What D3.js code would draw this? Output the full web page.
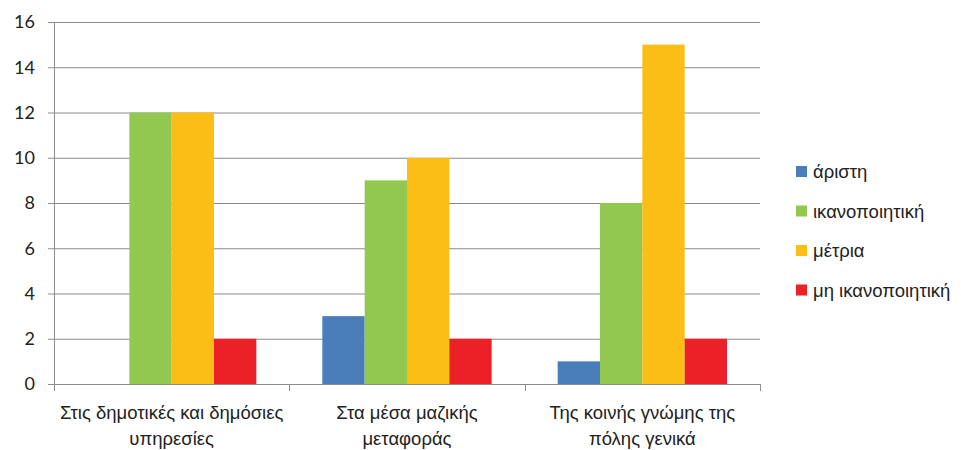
<!DOCTYPE html>
<html><head><meta charset="utf-8">
<script src="https://cdn.jsdelivr.net/npm/d3@7"></script>
<style>body{margin:0;background:#fff;} svg{display:block;}</style>
</head><body>
<svg id="c" width="961" height="450"></svg>
<script>
const categories = [["Στις δημοτικές και δημόσιες","υπηρεσίες"],["Στα μέσα μαζικής","μεταφοράς"],["Της κοινής γνώμης της","πόλης γενικά"]];
const seriesNames = ["άριστη","ικανοποιητική","μέτρια","μη ικανοποιητική"];
const aristi = [0,3,1];
const ikanopoiitiki = [12,9,8];
const metria = [12,10,15];
const miIkanopoiitiki = [2,2,2];
const yTicks = [0,2,4,6,8,10,12,14,16];
const colors = ["#4A7EBB","#92C850","#FBBE16","#EC2027"];
const seriesValues = [aristi, ikanopoiitiki, metria, miIkanopoiitiki];

(function(){
const svg = d3.select("#c");
const pl = 54, pr = 760, pt = 22, pb = 384;
const x0 = d3.scaleBand().domain(d3.range(categories.length)).range([pl,pr]).padding(0);
const x1 = d3.scaleBand().domain(d3.range(seriesNames.length)).range([33, x0.bandwidth()-33]).padding(0);
const y = d3.scaleLinear().domain([0,16]).range([pb, pt]);
const gridColor = "#8c8c8c";
const txtFont = "'Liberation Sans', Arial, sans-serif";

svg.append("g").selectAll("line").data(yTicks).join("line")
  .attr("x1", pl-6).attr("x2", pr).attr("y1", d=>y(d)+0.5).attr("y2", d=>y(d)+0.5)
  .attr("stroke", gridColor).attr("stroke-width",1);
svg.append("line").attr("x1",pl+0.5).attr("x2",pl+0.5).attr("y1",pt).attr("y2",pb)
  .attr("stroke",gridColor);
svg.append("g").selectAll("text").data(yTicks).join("text")
  .attr("x", 35).attr("y", d=>y(d)).attr("dy","0.35em").attr("text-anchor","end")
  .attr("font-family","Lato, 'Liberation Sans', sans-serif").attr("font-size",18).attr("fill","#222")
  .text(d=>d);

const g = svg.append("g");
seriesValues.forEach((vals, si) => {
  g.append("g").selectAll("rect").data(vals).join("rect")
    .attr("x", (d,i)=>x0(i)+x1(si))
    .attr("width", x1.bandwidth())
    .attr("y", d=>y(d))
    .attr("height", d=>pb - y(d))
    .attr("fill", colors[si]);
});

svg.append("line").attr("x1",pl).attr("x2",pr).attr("y1",pb+0.5).attr("y2",pb+0.5).attr("stroke",gridColor);
const tickXs = d3.range(categories.length+1).map(i => i<categories.length ? x0(i) : pr);
svg.append("g").selectAll("line").data(tickXs).join("line")
  .attr("x1",d=>Math.round(d)+0.5).attr("x2",d=>Math.round(d)+0.5).attr("y1",pb).attr("y2",pb+7)
  .attr("stroke",gridColor);
categories.forEach((lines,i) => {
  const t = svg.append("text").attr("text-anchor","middle")
    .attr("font-family",txtFont).attr("font-size",18.5).attr("fill","#222");
  lines.forEach((ln,k)=>{
    t.append("tspan").attr("x", x0(i)+x0.bandwidth()/2).attr("y", 419 + k*25.5).text(ln);
  });
});

const lg = svg.append("g");
seriesNames.forEach((n,i)=>{
  const cy = 172 + i*39.5;
  lg.append("rect").attr("x",796).attr("y",cy-6).attr("width",11).attr("height",11).attr("fill",colors[i]);
  lg.append("text").attr("x",813).attr("y",cy).attr("dy","0.35em")
    .attr("font-family",txtFont).attr("font-size",18.5).attr("fill","#222").text(n);
});
})();
</script>
</body></html>
